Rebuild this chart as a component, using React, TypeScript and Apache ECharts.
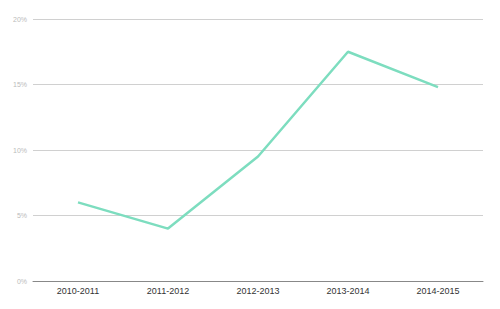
import React, { useEffect, useRef } from "react";
import * as echarts from "echarts";

const categories = ["2010-2011", "2011-2012", "2012-2013", "2013-2014", "2014-2015"];
const values = [6.0, 4.0, 9.5, 17.5, 14.8];

export default function App() {
  const ref = useRef<HTMLDivElement>(null);
  useEffect(() => {
    const chart = echarts.init(ref.current!, null, { renderer: "svg" });
    chart.setOption({
      animation: false,
      grid: { left: 33, right: 17, top: 19, bottom: 28 },
      xAxis: {
        type: "category",
        data: categories,
        axisLine: { lineStyle: { color: "#888", width: 1 } },
        axisTick: { show: false },
        axisLabel: { color: "#333", fontSize: 9, fontFamily: "Liberation Sans, Arial", margin: 5 },
      },
      yAxis: {
        type: "value",
        min: 0,
        max: 20,
        interval: 5,
        axisLine: { show: false },
        axisTick: { show: false },
        axisLabel: { color: "#bbb", fontSize: 7, fontFamily: "Liberation Sans, Arial", formatter: "{value}%", margin: 6 },
        splitLine: { lineStyle: { color: "#d0d0d0", width: 1 } },
      },
      series: [
        {
          type: "line",
          data: values,
          symbol: "none",
          lineStyle: { color: "#7dddbf", width: 2.5 },
        },
      ],
    });
    return () => chart.dispose();
  }, []);
  return <div ref={ref} style={{ width: 500, height: 309, position: "absolute", left: 0, top: 0 }} />;
}
